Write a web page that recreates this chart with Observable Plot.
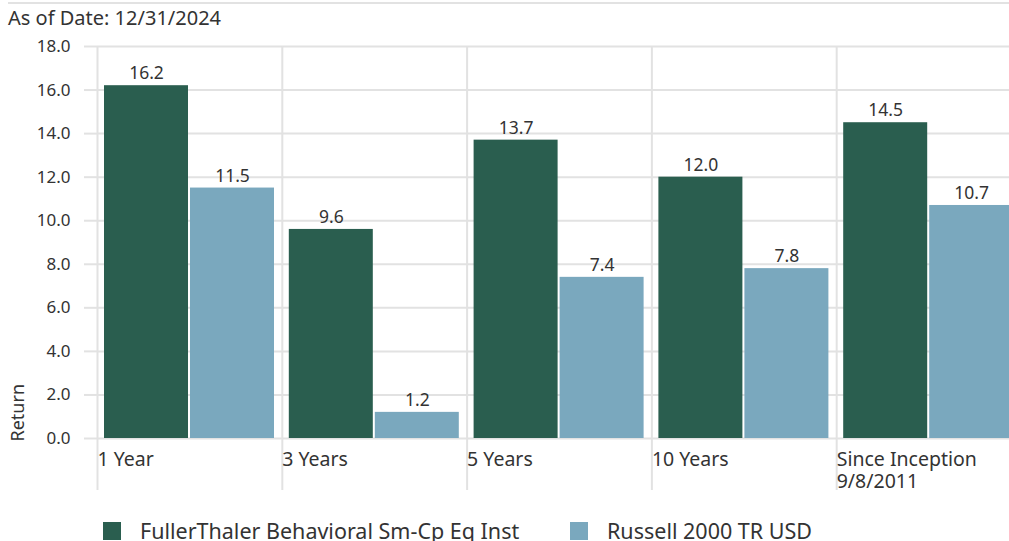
<!DOCTYPE html>
<html><head><meta charset="utf-8">
<script src="https://cdn.jsdelivr.net/npm/d3@7"></script>
<script src="https://cdn.jsdelivr.net/npm/@observablehq/plot@0.6"></script>
<style>
body{margin:0;overflow:hidden;font-family:"Noto Sans",sans-serif;color:#333;background:#fff}
#wrap{position:relative;width:1009px;height:541px;overflow:hidden}
#topline{position:absolute;left:8px;top:2px;width:1001px;height:2px;background:#e2e2e2}
#title{position:absolute;left:8px;top:6px;font-size:20px;line-height:24px;white-space:nowrap}
#chart{position:absolute;left:0;top:0;width:1021px}
#chart svg{max-width:none !important}
.item{position:absolute;top:519px;display:flex;align-items:center;font-size:21.5px;line-height:24px;white-space:nowrap}
.sw{width:18px;height:18px;margin-right:19px}
</style></head>
<body><div id="wrap">
<div id="topline"></div>
<div id="title">As of Date: 12/31/2024</div>
<div id="chart"></div>
<div id="legend"></div>
</div>
<script>
const categories = ["1 Year", "3 Years", "5 Years", "10 Years", "Since Inception 9/8/2011"];
const categoryLabels = ["1 Year", "3 Years", "5 Years", "10 Years", "Since Inception\n9/8/2011"];
const seriesNames = ["FullerThaler Behavioral Sm-Cp Eq Inst", "Russell 2000 TR USD"];
const fundValues = [16.2, 9.6, 13.7, 12.0, 14.5];
const indexValues = [11.5, 1.2, 7.4, 7.8, 10.7];
const yTicks = [0, 2, 4, 6, 8, 10, 12, 14, 16, 18];
const colors = ["#2a5e4f", "#7aa8be"];

const fundRows = categories.map((c, i) => ({cat: c, value: fundValues[i]}));
const indexRows = categories.map((c, i) => ({cat: c, value: indexValues[i]}));

const W = 1021, ML = 97, step = (W - ML) / categories.length;
const grid = "#e2e2e2";
const fmt = d3.format(".1f");
const labelOf = d => categoryLabels[categories.indexOf(d)];

const chart = Plot.plot({
  width: W, height: 541,
  marginTop: 46, marginBottom: 103, marginLeft: ML, marginRight: 0,
  style: {fontFamily: "Noto Sans", fontSize: "17px", color: "#333", background: "transparent", maxWidth: "none"},
  x: {domain: categories, padding: 0, round: false},
  y: {domain: [0, 18]},
  marks: [
    Plot.gridY(yTicks, {stroke: grid, strokeOpacity: 1, strokeWidth: 2}),
    Plot.gridX(categories, {stroke: grid, strokeOpacity: 1, strokeWidth: 2, dx: -step / 2}),
    Plot.axisX({tickSize: 52, tickFormat: () => "", stroke: grid, strokeOpacity: 1, strokeWidth: 2, dx: -step / 2, label: null}),
    Plot.axisX({tickSize: 0, tickPadding: 12, tickFormat: labelOf, textAnchor: "start", lineHeight: 1.13, dx: -step / 2, fontSize: 19.5, fill: "#333", label: null}),
    Plot.axisY({ticks: yTicks, tickSize: 13, tickPadding: 14, tickFormat: fmt, stroke: grid, strokeOpacity: 1, strokeWidth: 2, fontSize: 17, fill: "#333", label: null}),
    Plot.text(["Return"], {text: d => d, frameAnchor: "bottom-left", rotate: -90, textAnchor: "start", dx: -74, dy: 3, fontSize: 18, fill: "#333"}),
    Plot.barY(fundRows, {x: "cat", y: "value", fill: colors[0], insetLeft: 7, insetRight: step - 91}),
    Plot.barY(indexRows, {x: "cat", y: "value", fill: colors[1], insetLeft: 93, insetRight: step - 177}),
    Plot.text(fundRows, {x: "cat", y: "value", text: d => fmt(d.value), dx: 49 - step / 2, dy: -12, fontSize: 17.5, fill: "#333"}),
    Plot.text(indexRows, {x: "cat", y: "value", text: d => fmt(d.value), dx: 135 - step / 2, dy: -12, fontSize: 17.5, fill: "#333"})
  ]
});
document.getElementById("chart").append(chart);

const legend = document.getElementById("legend");
const legendX = [103, 570];
seriesNames.forEach((n, i) => {
  const it = document.createElement("div");
  it.className = "item";
  it.style.left = legendX[i] + "px";
  const sw = document.createElement("div");
  sw.className = "sw"; sw.style.background = colors[i];
  const t = document.createElement("span"); t.textContent = n;
  it.append(sw, t);
  legend.append(it);
});
</script>
</body></html>
